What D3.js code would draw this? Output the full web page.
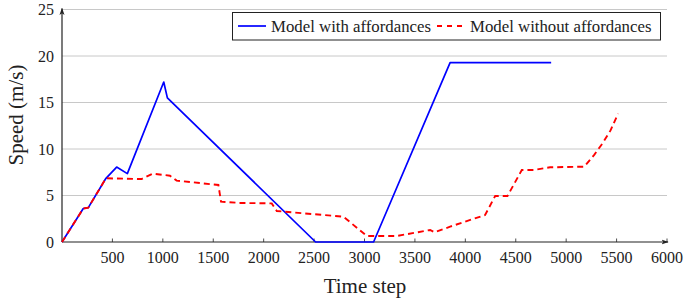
<!DOCTYPE html>
<html><head><meta charset="utf-8">
<script src="https://cdn.jsdelivr.net/npm/d3@7/dist/d3.min.js"></script>
<style>body{margin:0;background:#fff}</style>
</head><body>
<svg id="c" width="685" height="301"></svg>
<script>
const seriesNames = ["Model with affordances", "Model without affordances"];
const withX = [0, 211, 261, 436, 542, 648, 1009, 1045, 2515, 3090, 3849, 4851];
const withY = [0, 3.6, 3.7, 6.85, 8.06, 7.35, 17.2, 15.5, 0, 0, 19.28, 19.28];
const withoutX = [0, 211, 261, 436, 790, 899, 1071, 1137, 1551, 1577, 1766, 2080, 2130, 2791, 3023, 3320, 3651, 3694, 3849, 4196, 4296, 4418, 4560, 4676, 4841, 5180, 5280, 5360, 5440, 5515];
const withoutY = [0, 3.6, 3.7, 6.85, 6.77, 7.35, 7.13, 6.6, 6.13, 4.34, 4.2, 4.15, 3.33, 2.72, 0.65, 0.65, 1.29, 1.04, 1.65, 2.9, 4.95, 4.95, 7.74, 7.74, 8.03, 8.1, 9.4, 10.6, 12.0, 13.8];
const xTicks = [500, 1000, 1500, 2000, 2500, 3000, 3500, 4000, 4500, 5000, 5500, 6000];
const yTicks = [0, 5, 10, 15, 20, 25];
const xLabel = "Time step", yLabel = "Speed (m/s)";

const svg = d3.select("#c");
const L = 62, R = 667, T = 9.5, B = 242;
const x = d3.scaleLinear().domain([0, 6000]).range([L, R]);
const y = d3.scaleLinear().domain([0, 25]).range([B, T]);
const font = "'Liberation Serif', 'DejaVu Serif', serif";

// grid
svg.append("g").selectAll("line").data(yTicks.filter(d => d > 0)).join("line")
  .attr("x1", L).attr("x2", R).attr("y1", d => y(d)).attr("y2", d => y(d))
  .attr("stroke", "#c8c8c8").attr("stroke-width", 1);

// y tick labels
svg.append("g").selectAll("text").data(yTicks).join("text")
  .attr("x", 54).attr("y", d => y(d)).attr("dy", "0.35em")
  .attr("text-anchor", "end").attr("font-family", font).attr("font-size", 16)
  .attr("fill", "#222").text(d => d);

// x ticks and labels
const xg = svg.append("g");
xg.selectAll("line").data(xTicks).join("line")
  .attr("x1", d => x(d)).attr("x2", d => x(d)).attr("y1", B - 3.5).attr("y2", B)
  .attr("stroke", "#222").attr("stroke-width", 0.8);
xg.selectAll("text").data(xTicks).join("text")
  .attr("x", d => x(d)).attr("y", 263).attr("text-anchor", "middle")
  .attr("font-family", font).attr("font-size", 16).attr("fill", "#222").text(d => d);

// axes with arrows
const defs = svg.append("defs");
defs.append("marker").attr("id", "arr").attr("viewBox", "0 0 10 10").attr("refX", 9).attr("refY", 5)
  .attr("markerWidth", 6).attr("markerHeight", 6).attr("orient", "auto")
  .append("path").attr("d", "M0,1.5 L10,5 L0,8.5 L2.5,5 Z").attr("fill", "#222");
svg.append("line").attr("x1", L).attr("x2", R + 1).attr("y1", B).attr("y2", B)
  .attr("stroke", "#222").attr("stroke-width", 1.2).attr("marker-end", "url(#arr)");
svg.append("line").attr("x1", L).attr("x2", L).attr("y1", B).attr("y2", T - 1)
  .attr("stroke", "#222").attr("stroke-width", 1.2).attr("marker-end", "url(#arr)");

// lines
const line = d3.line().x(d => x(d[0])).y(d => y(d[1]));
svg.append("path").datum(withX.map((v, i) => [v, withY[i]])).attr("d", line)
  .attr("fill", "none").attr("stroke", "#0000ff").attr("stroke-width", 1.7).attr("stroke-linejoin", "round");
svg.append("path").datum(withoutX.map((v, i) => [v, withoutY[i]])).attr("d", line)
  .attr("fill", "none").attr("stroke", "#ff0000").attr("stroke-width", 1.9).attr("stroke-dasharray", "6,4");

// legend
const lg = svg.append("g");
lg.append("rect").attr("x", 232.5).attr("y", 12.5).attr("width", 428).attr("height", 27.5)
  .attr("fill", "#fff").attr("stroke", "#222").attr("stroke-width", 1);
lg.append("line").attr("x1", 238).attr("x2", 266).attr("y1", 26).attr("y2", 26)
  .attr("stroke", "#0000ff").attr("stroke-width", 1.7);
lg.append("text").attr("x", 271).attr("y", 31.5).attr("font-family", font).attr("font-size", 16.8)
  .attr("fill", "#222").text(seriesNames[0]);
lg.append("line").attr("x1", 437).attr("x2", 462).attr("y1", 26).attr("y2", 26)
  .attr("stroke", "#ff0000").attr("stroke-width", 1.9).attr("stroke-dasharray", "5,5");
lg.append("text").attr("x", 470).attr("y", 31.5).attr("font-family", font).attr("font-size", 16.8)
  .attr("fill", "#222").text(seriesNames[1]);

// axis labels
svg.append("text").attr("x", 365).attr("y", 293).attr("text-anchor", "middle")
  .attr("font-family", font).attr("font-size", 21).attr("fill", "#222").text(xLabel);
svg.append("text").attr("transform", "translate(23,115) rotate(-90)").attr("text-anchor", "middle")
  .attr("font-family", font).attr("font-size", 21).attr("fill", "#222").text(yLabel);
</script>
</body></html>
